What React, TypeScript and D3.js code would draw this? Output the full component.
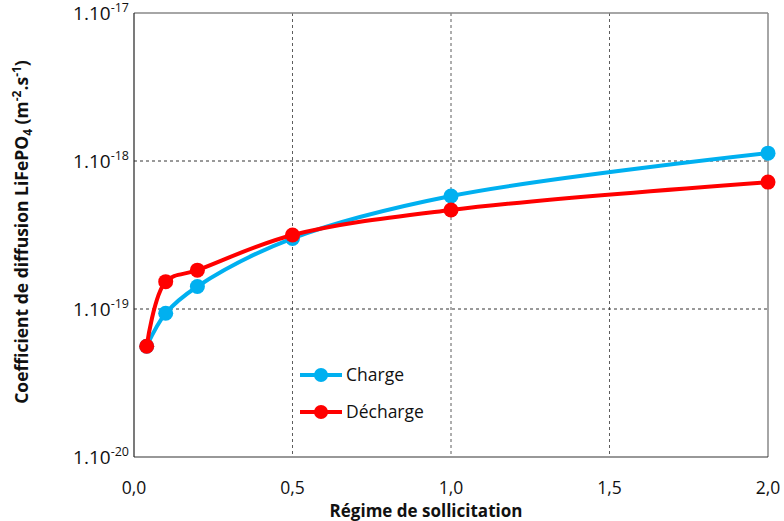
import React from "react";
import * as d3 from "d3";

const chargeX = [0.04, 0.1, 0.2, 0.5, 1.0, 2.0];
const chargeY = [5.6e-20, 9.35e-20, 1.42e-19, 3.0e-19, 5.8e-19, 1.13e-18];
const dechargeX = [0.04, 0.1, 0.2, 0.5, 1.0, 2.0];
const dechargeY = [5.6e-20, 1.53e-19, 1.83e-19, 3.16e-19, 4.67e-19, 7.2e-19];
const xTicks = [0, 0.5, 1.0, 1.5, 2.0];
const yTickExps = [-17, -18, -19, -20];
const seriesNames = ["Charge", "Décharge"];
const colors = ["#00B0F0", "#FF0000"];

const W = 784, H = 521;
const left = 134, right = 768, top = 13, bottom = 457;
const FONT = "'Open Sans', Lato, sans-serif";

export default function App() {
  const x = d3.scaleLinear().domain([0, 2]).range([left, right]);
  const y = d3.scaleLog().domain([1e-20, 1e-17]).range([bottom, top]);
  const line = d3
    .line<[number, number]>()
    .x((d) => x(d[0]))
    .y((d) => y(d[1]))
    .curve(d3.curveCatmullRom.alpha(0.5));
  const series = [
    chargeX.map((v, i) => [v, chargeY[i]] as [number, number]),
    dechargeX.map((v, i) => [v, dechargeY[i]] as [number, number]),
  ];
  return (
    <svg width={W} height={H} style={{ position: "absolute", left: 0, top: 0, background: "#fff" }}>
      <rect x={0} y={0} width={W} height={H} fill="#fff" />
      {/* grid */}
      {[1e-18, 1e-19].map((v) => (
        <line key={v} x1={left} x2={right} y1={y(v)} y2={y(v)} stroke="#000" strokeWidth={0.8} strokeDasharray="3,3" />
      ))}
      {[0.5, 1.0, 1.5].map((v) => (
        <line key={v} x1={x(v)} x2={x(v)} y1={top} y2={bottom} stroke="#333" strokeWidth={0.8} strokeDasharray="3,3" />
      ))}
      {/* frame */}
      <line x1={left} x2={right} y1={top} y2={top} stroke="#888" strokeWidth={1.5} />
      <line x1={right} x2={right} y1={top} y2={bottom} stroke="#888" strokeWidth={1.5} />
      <line x1={left} x2={right} y1={bottom} y2={bottom} stroke="#333" strokeWidth={1.2} />
      <line x1={left} x2={left} y1={top} y2={bottom} stroke="#222" strokeWidth={1.2} />
      {/* series */}
      {series.map((s, i) => (
        <g key={i}>
          <path d={line(s) || ""} fill="none" stroke={colors[i]} strokeWidth={4} strokeLinejoin="round" />
          {s.map((d, j) => (
            <circle key={j} cx={x(d[0])} cy={y(d[1])} r={7.5} fill={colors[i]} />
          ))}
        </g>
      ))}
      {/* y tick labels */}
      {yTickExps.map((e) => (
        <text key={e} x={129} y={y(Math.pow(10, e)) + 7} textAnchor="end" fontFamily={FONT} fill="#111">
          <tspan fontSize={19}>1.10</tspan>
          <tspan fontSize={12.5} dy={-8}>{String(e)}</tspan>
        </text>
      ))}
      {/* x tick labels */}
      {xTicks.map((v) => (
        <text key={v} x={x(v)} y={494} textAnchor="middle" fontFamily={FONT} fontSize={17.5} fill="#111">
          {d3.format(".1f")(v).replace(".", ",")}
        </text>
      ))}
      <text x={426} y={517} textAnchor="middle" fontFamily={FONT} fontSize={17} fontWeight="bold" fill="#111">
        Régime de sollicitation
      </text>
      <text transform={`translate(28,232) rotate(-90)`} textAnchor="middle" fontFamily={FONT} fontSize={17.5} fontWeight="bold" fill="#111">
        Coefficient de diffusion LiFePO<tspan fontSize={12} dy={4}>4</tspan>
        <tspan dy={-4}> (m</tspan>
        <tspan fontSize={12} dy={-7}>-2</tspan>
        <tspan dy={7}>.s</tspan>
        <tspan fontSize={12} dy={-7}>-1</tspan>
        <tspan dy={7}>)</tspan>
      </text>
      {/* legend */}
      {seriesNames.map((n, i) => (
        <g key={n} transform={`translate(300,${375 + i * 37})`}>
          <line x1={0} x2={42} y1={0} y2={0} stroke={colors[i]} strokeWidth={4} />
          <circle cx={21} cy={0} r={7} fill={colors[i]} />
          <text x={46} y={6} fontFamily={FONT} fontSize={17.5} fill="#111">
            {n}
          </text>
        </g>
      ))}
    </svg>
  );
}
